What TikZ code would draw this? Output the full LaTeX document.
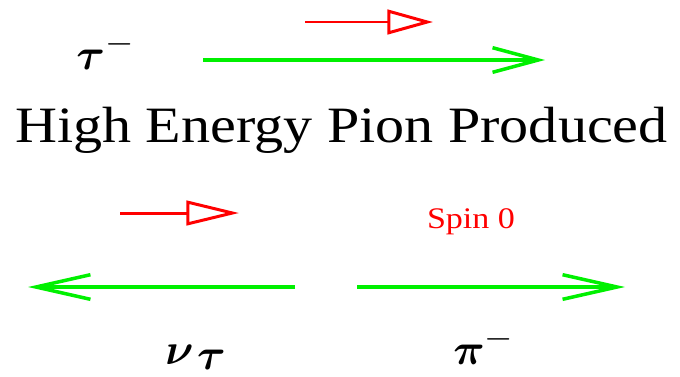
\documentclass[tikz,border=0pt]{standalone}
\usepackage{amsmath,amssymb}
\usepackage{fontspec}
\setmainfont{Liberation Serif}
\usetikzlibrary{arrows.meta}
\definecolor{spinred}{HTML}{FF0000}
\definecolor{momgreen}{HTML}{00F000}

\begin{document}
\begin{tikzpicture}[
  mom/.style={draw=momgreen,line width=2pt,-{Straight Barb[length=#1,width=14pt,line width=2pt]}},
  mom/.default=31pt,
  spin/.style={draw=spinred,line width=1.7pt,-{Triangle[open,length=#1,width=14pt,line width=1.7pt]}},
  spin/.default=30pt,
  lbl/.style={inner sep=0pt,anchor=base,xscale=1.14},
  ptcl/.style={font=\fontsize{30}{34}\selectfont,inner sep=0pt,anchor=base west}]
\useasboundingbox (0,0) rectangle (13.6,7.52);

% tau before the decay
\node[ptcl] (tau) at (1.52,6.14) {$\boldsymbol{\tau}^{-}$};
\coordinate (tauA) at (4.06,6.32);
\coordinate (tauB) at (10.9,6.32);
\draw[mom=26pt] (tauA) -- (tauB);
\coordinate (tauSA) at (6.10,7.08);
\coordinate (tauSB) at (8.66,7.08);
\draw[spin=26pt] (tauSA) -- (tauSB);

\node[lbl,font=\fontsize{29}{34}\selectfont] (title) at (6.83,4.68) {High Energy Pion Produced};

% decay products
\coordinate (nuSA) at (2.40,3.26);
\coordinate (nuSB) at (4.78,3.26);
\draw[spin] (nuSA) -- (nuSB);
\node[lbl,font=\fontsize{17}{20}\selectfont,spinred] (spin0) at (9.42,2.96) {Spin 0};

\coordinate (nuA) at (5.90,1.78);
\coordinate (nuB) at (0.56,1.78);
\draw[mom] (nuA) -- (nuB);
\coordinate (piA) at (7.14,1.78);
\coordinate (piB) at (12.5,1.78);
\draw[mom] (piA) -- (piB);

\node[ptcl] (nu) at (3.30,0.24) {$\boldsymbol{\nu}\kern2pt\raisebox{-3pt}{$\boldsymbol{\tau}$}$};
\node[ptcl] (pi) at (9.06,0.24) {$\boldsymbol{\pi}^{-}$};
\end{tikzpicture}
\end{document}
